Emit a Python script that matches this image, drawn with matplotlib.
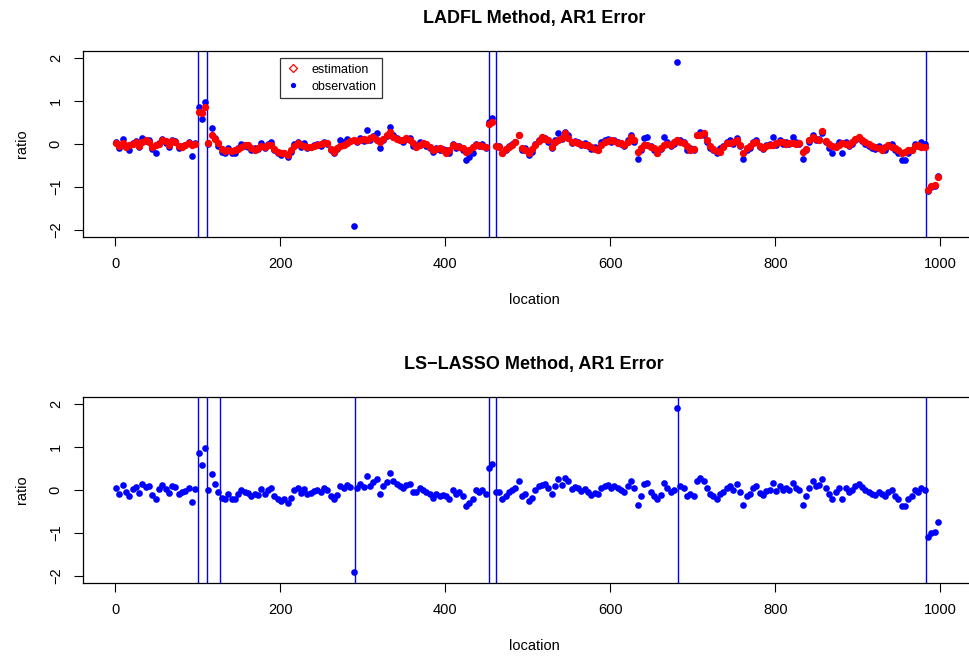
import numpy as np
import matplotlib
matplotlib.use("Agg")
import matplotlib.pyplot as plt
from matplotlib.lines import Line2D

plt.rcParams["font.family"] = ["Liberation Sans", "DejaVu Sans"]

# ---------------- data ----------------
location = np.arange(1, 1000, 4)   # 250 observed locations

observation = [
    0.05, -0.10, 0.12, -0.05, -0.15, 0.02, 0.08, -0.08, 0.14, 0.06,
    0.10, -0.12, -0.20, 0.03, 0.12, 0.02, -0.08, 0.10, 0.08, -0.10,
    -0.05, -0.03, 0.05, -0.28, 0.02, 0.86, 0.58, 0.97, 0.00, 0.37,
    0.15, -0.05, -0.18, -0.20, -0.10, -0.22, -0.20, -0.10, 0.00, -0.05,
    -0.08, -0.15, -0.10, -0.12, 0.02, -0.10, 0.00, 0.05, -0.15, -0.20,
    -0.25, -0.20, -0.30, -0.18, 0.00, 0.05, -0.08, 0.02, -0.10, -0.08,
    -0.03, 0.00, -0.05, 0.05, 0.00, -0.15, -0.22, -0.12, 0.10, 0.05,
    0.12, 0.08, -1.90, 0.05, 0.15, 0.08, 0.32, 0.10, 0.18, 0.25,
    -0.10, 0.10, 0.18, 0.40, 0.20, 0.15, 0.10, 0.05, 0.12, 0.15,
    -0.05, -0.05, 0.05, 0.00, -0.05, -0.10, -0.18, -0.10, -0.15, -0.12,
    -0.15, -0.20, 0.00, -0.10, -0.05, -0.15, -0.37, -0.30, -0.20, 0.00,
    -0.05, 0.00, -0.10, 0.50, 0.60, -0.05, -0.05, -0.20, -0.15, -0.05,
    0.00, 0.05, 0.22, -0.15, -0.10, -0.25, -0.18, 0.00, 0.10, 0.12,
    0.15, 0.05, -0.10, 0.10, 0.25, 0.12, 0.28, 0.20, 0.03, 0.06,
    0.05, -0.03, 0.02, -0.05, -0.12, -0.08, -0.10, 0.05, 0.10, 0.12,
    0.05, 0.10, 0.05, 0.00, -0.05, 0.10, 0.20, 0.05, -0.35, -0.15,
    0.14, 0.16, -0.05, -0.14, -0.20, -0.12, 0.16, 0.05, -0.05, 0.00,
    1.90, 0.10, 0.05, -0.14, -0.10, -0.15, 0.22, 0.28, 0.20, 0.05,
    -0.10, -0.15, -0.20, -0.10, -0.05, 0.05, 0.10, 0.00, 0.15, -0.05,
    -0.35, -0.15, -0.10, 0.05, 0.10, -0.08, -0.12, -0.02, 0.00, 0.16,
    -0.02, 0.10, 0.00, 0.05, 0.00, 0.16, 0.05, 0.00, -0.35, -0.15,
    0.05, 0.20, 0.10, 0.12, 0.25, 0.05, -0.10, -0.20, -0.05, 0.05,
    -0.20, 0.05, -0.05, 0.00, 0.10, 0.14, 0.08, 0.00, -0.05, -0.10,
    -0.12, -0.05, -0.10, -0.15, -0.05, 0.00, -0.15, -0.20, -0.37, -0.36,
    -0.20, -0.15, 0.00, -0.05, 0.05, 0.00, -1.08, -1.00, -0.97, -0.75,
]

estimation = [
    0.03, -0.05, 0.02, -0.08, -0.02, 0.00, 0.05, -0.05, 0.04, 0.10,
    0.05, -0.08, -0.02, 0.00, 0.10, 0.06, -0.03, 0.08, 0.05, -0.05,
    -0.07, -0.02, 0.02, -0.03, 0.00, 0.75, 0.72, 0.86, 0.02, 0.20,
    0.12, 0.02, -0.12, -0.16, -0.14, -0.16, -0.15, -0.12, -0.06, -0.02,
    -0.03, -0.10, -0.14, -0.10, -0.05, -0.08, -0.03, -0.02, -0.12, -0.18,
    -0.20, -0.22, -0.25, -0.15, -0.05, 0.02, -0.03, -0.05, -0.06, -0.07,
    -0.04, -0.03, 0.00, 0.02, 0.02, -0.12, -0.18, -0.10, -0.05, -0.02,
    0.03, 0.08, 0.10, 0.08, 0.10, 0.12, 0.10, 0.14, 0.16, 0.10,
    0.05, 0.12, 0.22, 0.28, 0.16, 0.12, 0.10, 0.10, 0.13, 0.10,
    0.02, -0.07, -0.02, 0.02, 0.00, -0.08, -0.14, -0.12, -0.10, -0.15,
    -0.22, -0.15, -0.02, -0.05, -0.07, -0.10, -0.18, -0.15, -0.08, -0.03,
    -0.03, -0.05, -0.07, 0.46, 0.50, -0.05, -0.07, -0.20, -0.12, -0.07,
    -0.02, 0.05, 0.20, -0.10, -0.15, -0.22, -0.12, -0.02, 0.08, 0.16,
    0.12, 0.10, -0.07, 0.05, 0.10, 0.15, 0.25, 0.15, 0.05, 0.04,
    0.02, 0.00, -0.02, -0.02, -0.08, -0.12, -0.14, -0.02, 0.05, 0.08,
    0.10, 0.06, 0.02, 0.02, -0.03, 0.05, 0.16, 0.10, -0.18, -0.10,
    -0.02, -0.02, -0.07, -0.10, -0.20, -0.10, -0.02, 0.00, -0.02, 0.05,
    0.10, 0.04, 0.02, -0.05, -0.14, -0.12, 0.20, 0.22, 0.25, 0.10,
    -0.05, -0.12, -0.16, -0.18, -0.08, 0.02, 0.03, 0.05, 0.10, -0.02,
    -0.20, -0.10, -0.05, 0.02, 0.05, -0.05, -0.10, -0.05, -0.03, -0.02,
    0.02, 0.05, 0.05, 0.00, 0.02, 0.02, 0.00, 0.02, -0.18, -0.12,
    0.10, 0.16, 0.12, 0.10, 0.30, 0.08, 0.00, -0.05, -0.07, -0.02,
    0.02, 0.00, -0.02, 0.05, 0.12, 0.16, 0.10, 0.05, 0.00, -0.05,
    -0.07, -0.10, -0.14, -0.08, -0.02, -0.06, -0.10, -0.15, -0.20, -0.18,
    -0.15, -0.14, -0.05, -0.02, -0.06, -0.07, -1.06, -0.98, -0.95, -0.76,
]

ladfl_breaks = [100, 111, 453, 461, 982]
lasso_breaks = [100, 111, 127, 290, 453, 461, 682, 982]

titles = ["LADFL Method, AR1 Error", "LS\u2212LASSO Method, AR1 Error"]
xticks = [0, 200, 400, 600, 800, 1000]
yticks = [-2, -1, 0, 1, 2]


# ---------------- plot ----------------
fig = plt.figure(figsize=(9.69, 6.57), dpi=100)
W, H = 969.0, 657.0


def r_axes(top_px, bottom_px):
    # plot box runs past the right edge of the picture (cropped, as in the original)
    left, right = 83.0, 985.0
    ax = fig.add_axes([left / W, 1 - bottom_px / H, (right - left) / W,
                       (bottom_px - top_px) / H])
    ax.set_xlim(-39, 1054)
    ax.set_ylim(-2.16, 2.16)
    for s in ax.spines.values():
        s.set_linewidth(0.9)
        s.set_color("black")
    ax.set_xticks(xticks)
    ax.set_yticks(yticks)
    ax.set_yticklabels([str(v).replace("-", "\u2212") for v in yticks],
                       rotation=90, va="center")
    ax.tick_params(direction="out", length=6.5, width=0.8, labelsize=10.5, pad=8)
    ax.set_xlabel("location", fontsize=10.5, labelpad=16)
    ax.set_ylabel("ratio", fontsize=10.5, labelpad=14)
    return ax


ax1 = r_axes(51, 237)
ax1.plot(location, observation, "o", color="blue", markersize=4.8,
         markeredgewidth=0, zorder=3)
ax1.plot(location, estimation, "o", color="red", markersize=5.3,
         markeredgewidth=0, zorder=4)
for b in ladfl_breaks:
    ax1.axvline(b, color="blue", lw=1.0, zorder=2)
ax1.set_title(titles[0], fontsize=13, fontweight="bold", pad=20)

handles = [
    Line2D([], [], ls="none", marker="D", markersize=4.5, markerfacecolor="none",
           markeredgecolor="red", markeredgewidth=0.9),
    Line2D([], [], ls="none", marker="o", markersize=3.8, color="blue",
           markeredgewidth=0),
]
leg = ax1.legend(handles, ["estimation", "observation"], loc="upper left",
                 bbox_to_anchor=(0.218, 0.962), borderaxespad=0, fontsize=9,
                 frameon=True, fancybox=False, handlelength=1.2,
                 handletextpad=0.9, borderpad=0.45, labelspacing=0.4)
leg.get_frame().set_edgecolor("black")
leg.get_frame().set_linewidth(0.9)

ax2 = r_axes(397, 583)
ax2.plot(location, observation, "o", color="blue", markersize=4.8,
         markeredgewidth=0, zorder=3)
for b in lasso_breaks:
    ax2.axvline(b, color="blue", lw=1.0, zorder=2)
ax2.set_title(titles[1], fontsize=13, fontweight="bold", pad=20)

fig.savefig("out.png", dpi=100)
